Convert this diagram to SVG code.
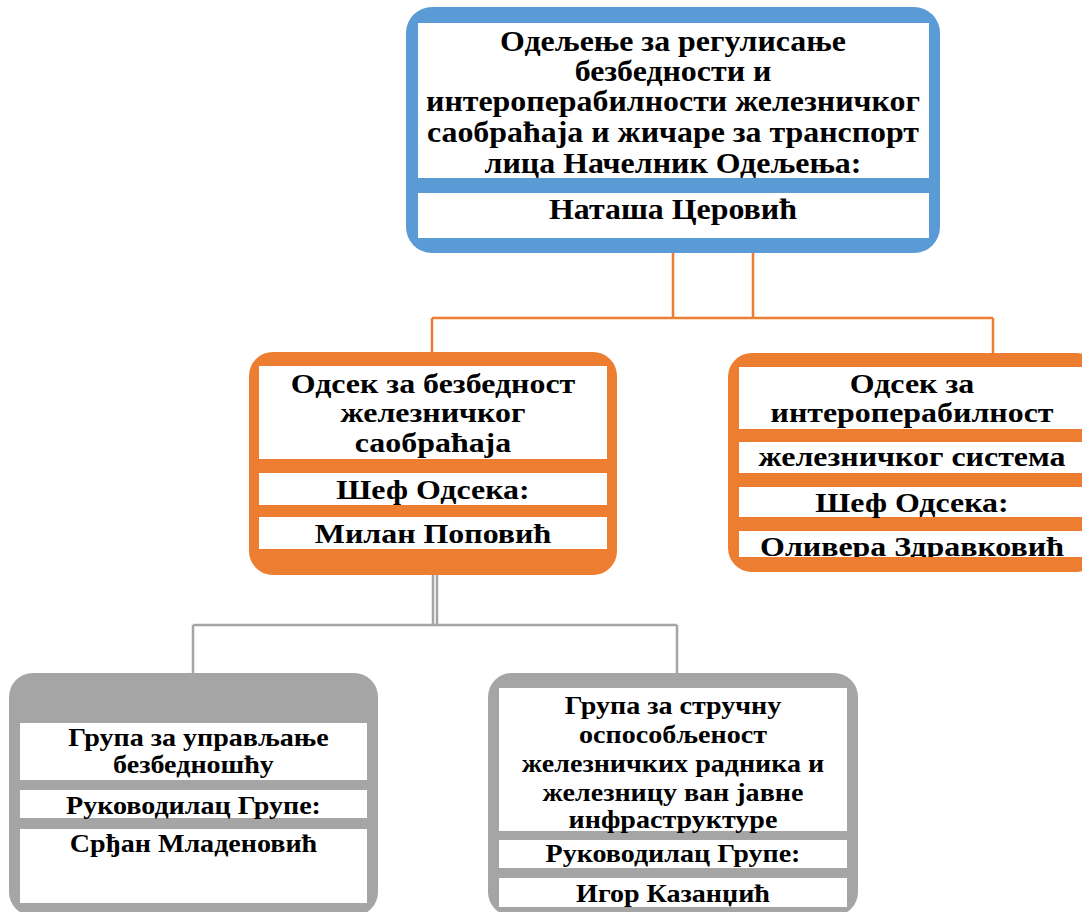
<svg xmlns="http://www.w3.org/2000/svg" width="1082" height="912" viewBox="0 0 1082 912">
<style>
.t{font-family:"Liberation Serif","DejaVu Serif",serif;font-weight:bold;fill:#000;text-anchor:middle}
.big{font-size:29px}
.mid{font-size:28px}
.sm{font-size:25.5px}
.w{fill:#fff}
.blue{fill:#5B9BD5}
.orange{fill:#ED7D31}
.gray{fill:#A5A5A5}
.oc{stroke:#ED7D31;stroke-width:2.5;fill:none}
.gc{stroke:#A5A5A5;stroke-width:2.5;fill:none}
</style>
<defs>
<clipPath id="c1"><rect x="739" y="531" width="346" height="26"/></clipPath>
<clipPath id="c2"><rect x="499" y="878" width="348" height="29"/></clipPath>
</defs>
<rect width="1082" height="912" fill="#fff"/>
<g id="connectors">
<path class="oc" d="M673 253V318M753 253V318M432 318H993M432 318V353M993 318V354"/>
<path class="gc" d="M433 575V625M437 575V625M193 625H677M193 625V674M677 625V674"/>
</g>
<g id="n1">
<rect class="blue" x="406" y="7" width="534" height="246" rx="26"/>
<rect class="w" x="418" y="23" width="511" height="155"/>
<rect class="w" x="418" y="193" width="511" height="45"/>
<g transform="translate(673 0) scale(1.1 1) translate(-673 0)">
<text class="t big" x="673" y="51">Одељење за регулисање</text>
<text class="t big" x="673" y="81">безбедности и</text>
<text class="t big" x="673" y="111">интероперабилности железничког</text>
<text class="t big" x="673" y="142">саобраћаја и жичаре за транспорт</text>
<text class="t big" x="673" y="173">лица Начелник Одељења:</text>
<text class="t big" x="673" y="219">Наташа Церовић</text>
</g>
</g>
<g id="n2">
<rect class="orange" x="249" y="352" width="368" height="223" rx="24"/>
<rect class="w" x="259" y="366" width="348" height="93"/>
<rect class="w" x="259" y="473" width="348" height="32"/>
<rect class="w" x="259" y="517" width="348" height="32"/>
<g transform="translate(433 0) scale(1.14 1) translate(-433 0)">
<text class="t mid" x="433" y="393">Одсек за безбедност</text>
<text class="t mid" x="433" y="422">железничког</text>
<text class="t mid" x="433" y="452">саобраћаја</text>
<text class="t mid" x="433" y="499">Шеф Одсека:</text>
<text class="t mid" x="433" y="543">Милан Поповић</text>
</g>
</g>
<g id="n3">
<rect class="orange" x="728" y="353" width="372" height="219" rx="24"/>
<rect class="w" x="739" y="367" width="346" height="62"/>
<rect class="w" x="739" y="442" width="346" height="31"/>
<rect class="w" x="739" y="487" width="346" height="30"/>
<rect class="w" x="739" y="531" width="346" height="26"/>
<g transform="translate(912 0) scale(1.14 1) translate(-912 0)">
<text class="t mid" x="912" y="393">Одсек за</text>
<text class="t mid" x="912" y="422">интероперабилност</text>
<text class="t mid" x="912" y="466">железничког система</text>
<text class="t mid" x="912" y="512">Шеф Одсека:</text>
</g>
<g clip-path="url(#c1)">
<g transform="translate(912 0) scale(1.14 1) translate(-912 0)">
<text class="t mid" x="912" y="556">Оливера Здравковић</text>
</g>
</g>
</g>
<g id="n4">
<rect class="gray" x="9" y="673" width="369" height="243" rx="24"/>
<rect class="w" x="20" y="723" width="347" height="57"/>
<rect class="w" x="20" y="790" width="347" height="28"/>
<rect class="w" x="20" y="829" width="347" height="74"/>
<g transform="translate(193.5 0) scale(1.1 1) translate(-193.5 0)">
<text class="t sm" x="198" y="746">Група за управљање</text>
<text class="t sm" x="193.5" y="773">безбедношћу</text>
<text class="t sm" x="193.5" y="814">Руководилац Групе:</text>
<text class="t sm" x="193.5" y="852">Срђан Младеновић</text>
</g>
</g>
<g id="n5">
<rect class="gray" x="488" y="673" width="370" height="243" rx="24"/>
<rect class="w" x="499" y="688" width="348" height="143"/>
<rect class="w" x="499" y="840" width="348" height="28"/>
<rect class="w" x="499" y="878" width="348" height="29"/>
<g transform="translate(673 0) scale(1.1 1) translate(-673 0)">
<text class="t sm" x="673" y="714">Група за стручну</text>
<text class="t sm" x="673" y="743">оспособљеност</text>
<text class="t sm" x="673" y="772">железничких радника и</text>
<text class="t sm" x="673" y="801">железницу ван јавне</text>
<text class="t sm" x="673" y="828">инфраструктуре</text>
<text class="t sm" x="673" y="862">Руководилац Групе:</text>
</g>
<g clip-path="url(#c2)">
<g transform="translate(673 0) scale(1.1 1) translate(-673 0)">
<text class="t sm" x="673" y="902">Игор Казанџић</text>
</g>
</g>
</g>
</svg>
